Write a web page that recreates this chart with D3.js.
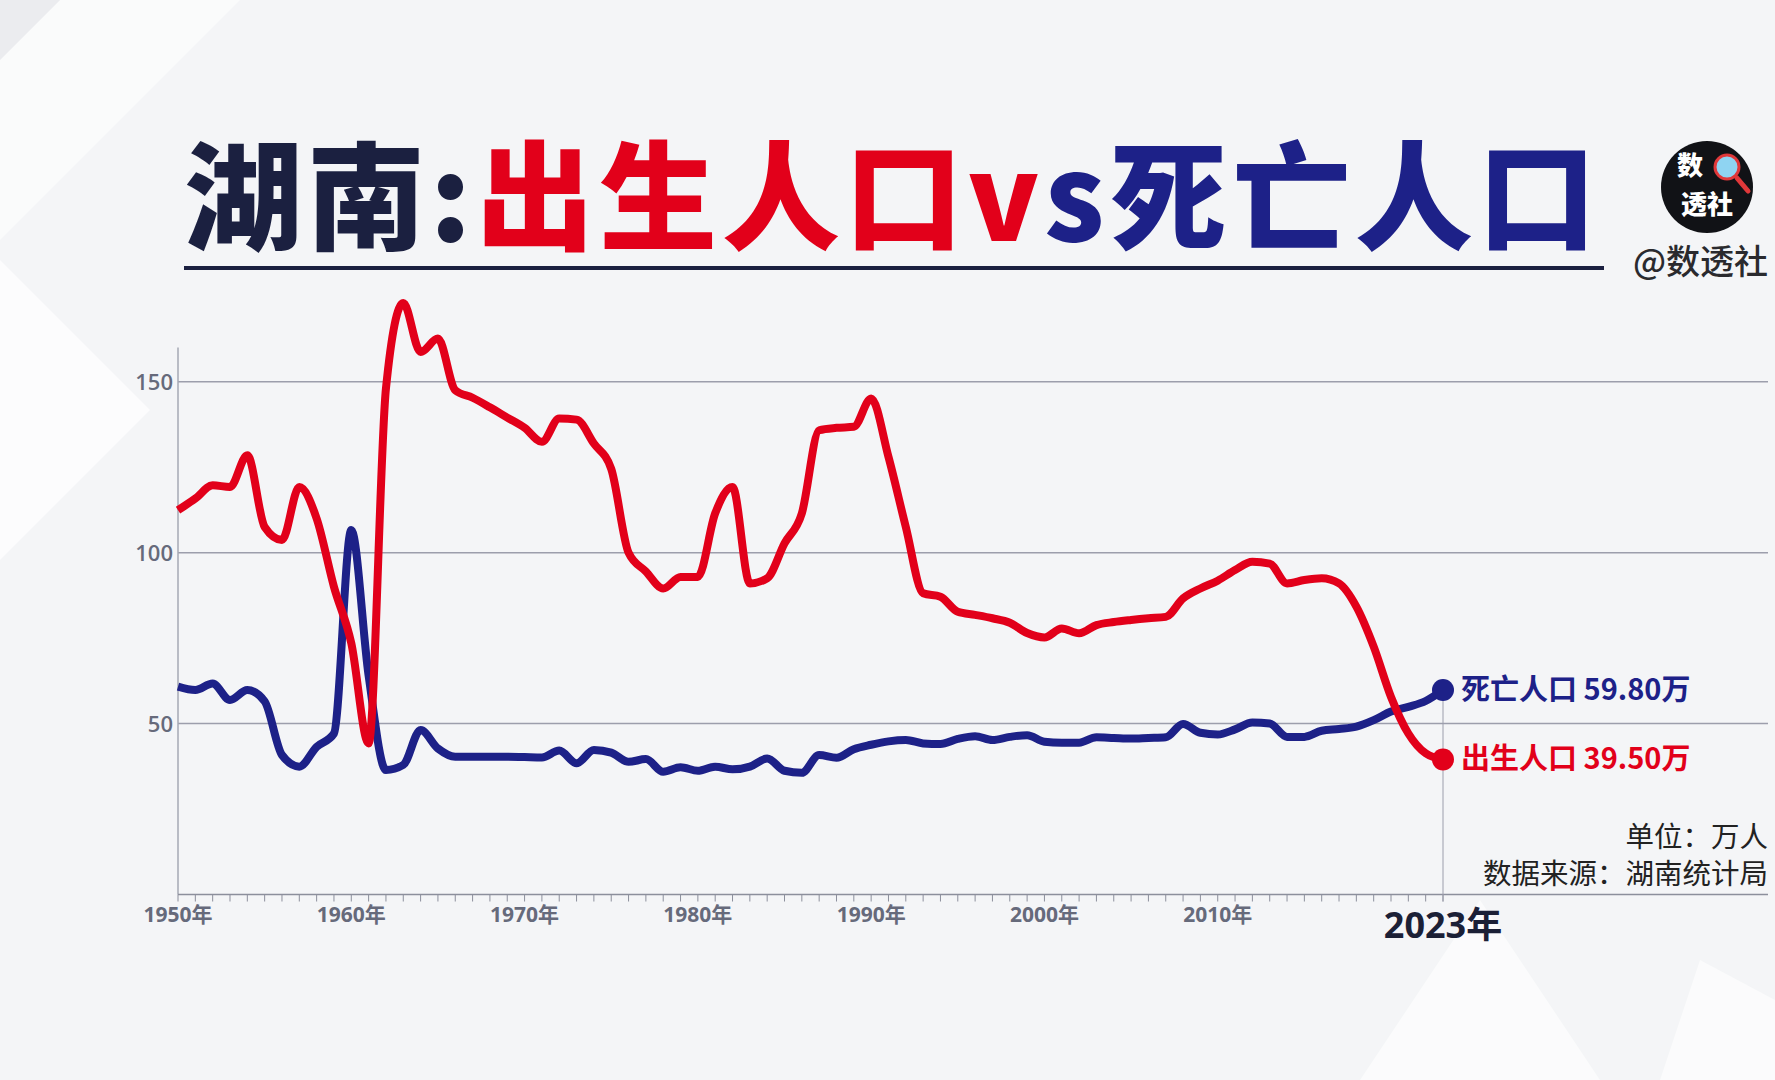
<!DOCTYPE html>
<html>
<head>
<meta charset="utf-8">
<script src="https://cdn.jsdelivr.net/npm/d3@7"></script>
<style>
  html, body { margin: 0; padding: 0; background: #f4f5f7; }
  svg { display: block; }
</style>
</head>
<body>
<div id="chart"></div>
<script>
const years = d3.range(1950, 2024)

// 出生人口 (万人)
const births = [
  112.4, 115.8, 119.7, 119.2, 128.5, 107.5, 103.7, 119.2, 110.0, 90.0,
  73.5, 44.2, 148.0, 173.0, 158.7, 162.6, 147.5, 145.3, 142.5, 139.5,
  136.5, 132.4, 139.2, 138.9, 131.9, 124.5, 100.0, 94.5, 89.5, 92.9,
  92.9, 111.5, 119.2, 91.0, 92.5, 102.7, 111.5, 135.8, 136.5, 136.8,
  145.1, 128.0, 107.5, 88.1, 87.1, 82.7, 81.8, 80.8, 79.5, 76.5,
  75.2, 77.8, 76.4, 78.8, 79.7, 80.3, 80.8, 81.2, 86.6, 89.5,
  91.8, 94.9, 97.3, 96.8, 91.0, 92.0, 92.5, 91.0, 84.2, 72.5,
  57.8, 47.1, 41.3, 39.5
]

// 死亡人口 (万人)
const deaths = [
  60.8, 59.8, 61.7, 56.9, 59.8, 56.5, 40.8, 37.4, 43.2, 47.1,
  106.6, 64.0, 36.4, 37.9, 48.1, 42.7, 40.3, 40.3, 40.3, 40.3,
  40.2, 40.1, 42.1, 38.4, 42.3, 41.5, 38.8, 39.6, 35.9, 37.2,
  36.2, 37.4, 36.6, 37.4, 39.8, 36.2, 35.6, 40.8, 40.0, 42.5,
  43.8, 44.8, 45.2, 44.2, 44.0, 45.5, 46.3, 45.2, 46.1, 46.6,
  44.7, 44.4, 44.4, 46.0, 45.8, 45.6, 45.8, 46.0, 49.9, 47.3,
  46.8, 48.3, 50.3, 50.0, 46.1, 46.1, 47.9, 48.4, 49.1, 51.0,
  53.5, 54.9, 56.6, 59.8
]

const yTicks = [50, 100, 150]
const decadeTicks = [1950, 1960, 1970, 1980, 1990, 2000, 2010]
const lastYear = 2023

const w = 1775
const h = 1080

const RED = '#e2001a'
const BLUE = '#1d2188'
const NAVY = '#1b2040'
const GRAY = '#666a7b'

function drawD3(){
  var svg = d3.select('#chart')
            .append('svg')
            .attr('width', w)
            .attr('height', h)

  // background
  svg.append('rect')
     .attr('width', w)
     .attr('height', h)
     .attr('fill', '#f4f5f7')

  var bg = svg.append('g').attr('fill', '#ffffff')
  bg.append('polygon').attr('points', '60,0 240,0 0,240 0,60').attr('opacity', 0.55)
  bg.append('polygon').attr('points', '0,260 150,410 0,560').attr('opacity', 0.7)
  bg.append('polygon').attr('points', '1480,900 1600,1080 1360,1080').attr('opacity', 0.6)
  bg.append('polygon').attr('points', '1700,960 1775,1000 1775,1080 1660,1080').attr('opacity', 0.6)
  svg.append('polygon').attr('points', '0,0 60,0 0,60').attr('fill', '#ebecef')

  // title, three coloured pieces spread over the underline width
  var parts = [
    {t: '湖南:', c: NAVY},
    {t: '出生人口v', c: RED},
    {t: 's死亡人口', c: BLUE}
  ]
  var titleG = svg.append('g')
  var nodes = parts.map(function(p){
    return titleG.append('text')
       .attr('y', 241)
       .attr('font-family', '"Noto Sans CJK SC", sans-serif')
       .attr('font-weight', 900)
       .attr('font-size', 118)
       .attr('fill', p.c)
       .text(p.t)
  })
  var widths = nodes.map(function(n){return n.node().getComputedTextLength()})
  var chars = d3.sum(parts, function(p){return p.t.length}) - 1
  var gap = Math.max(0, (1412 - d3.sum(widths)) / chars)
  var cx = 184
  nodes.forEach(function(n, i){
    n.attr('x', cx).attr('letter-spacing', gap)
    cx += widths[i] + gap * parts[i].t.length
  })

  svg.append('line')
     .attr('x1', 184).attr('x2', 1604)
     .attr('y1', 268).attr('y2', 268)
     .attr('stroke', NAVY)
     .attr('stroke-width', 4)

  // logo
  var logo = svg.append('g')
  logo.append('circle')
      .attr('cx', 1707).attr('cy', 187).attr('r', 46)
      .attr('fill', '#111216')
  logo.append('line')
      .attr('x1', 1737).attr('y1', 178).attr('x2', 1748).attr('y2', 191)
      .attr('stroke', '#e0383a').attr('stroke-width', 5).attr('stroke-linecap', 'round')
  logo.append('circle')
      .attr('cx', 1727).attr('cy', 167).attr('r', 12)
      .attr('fill', '#8fd4f2')
      .attr('stroke', '#e0383a').attr('stroke-width', 3)
  logo.append('text')
      .attr('x', 1690).attr('y', 175)
      .attr('text-anchor', 'middle')
      .attr('font-family', '"Noto Sans CJK SC", sans-serif')
      .attr('font-weight', 900).attr('font-size', 26)
      .attr('fill', 'white')
      .text('数')
  logo.append('text')
      .attr('x', 1707).attr('y', 214)
      .attr('text-anchor', 'middle')
      .attr('font-family', '"Noto Sans CJK SC", sans-serif')
      .attr('font-weight', 900).attr('font-size', 26)
      .attr('fill', 'white')
      .text('透社')

  svg.append('text')
     .attr('x', 1768).attr('y', 274)
     .attr('text-anchor', 'end')
     .attr('font-family', '"Noto Sans CJK SC", sans-serif')
     .attr('font-weight', 500).attr('font-size', 34)
     .attr('fill', '#2a2a2e')
     .text('@数透社')

  // scales
  var x = d3.scaleLinear()
            .domain([1950, lastYear])
            .range([178, 1443])
  var y = d3.scaleLinear()
            .domain([0, 160])
            .range([894.5, 347.5])

  // grid
  svg.append('g')
     .selectAll('line')
     .data(yTicks)
     .enter()
     .append('line')
     .attr('x1', x(1950)).attr('x2', 1768)
     .attr('y1', function(d){return y(d)})
     .attr('y2', function(d){return y(d)})
     .attr('stroke', '#9c9eac')
     .attr('stroke-width', 1.5)

  svg.append('g')
     .selectAll('text')
     .data(yTicks)
     .enter()
     .append('text')
     .attr('x', 173)
     .attr('y', function(d){return y(d) + 8})
     .attr('text-anchor', 'end')
     .attr('font-family', '"Open Sans", sans-serif')
     .attr('font-weight', 600).attr('font-size', 22)
     .attr('fill', GRAY)
     .text(function(d){return d})

  // y axis line
  svg.append('line')
     .attr('x1', x(1950)).attr('x2', x(1950))
     .attr('y1', y(160)).attr('y2', y(0))
     .attr('stroke', '#a6a8b5').attr('stroke-width', 1.5)

  // x axis
  svg.append('line')
     .attr('x1', x(1950)).attr('x2', 1768)
     .attr('y1', y(0)).attr('y2', y(0))
     .attr('stroke', '#8c8f9c').attr('stroke-width', 1.5)

  svg.append('g')
     .selectAll('line')
     .data(years)
     .enter()
     .append('line')
     .attr('x1', function(d){return x(d)})
     .attr('x2', function(d){return x(d)})
     .attr('y1', y(0)).attr('y2', y(0) + 7)
     .attr('stroke', '#8c8f9c').attr('stroke-width', 1)

  svg.append('g')
     .selectAll('text')
     .data(decadeTicks)
     .enter()
     .append('text')
     .attr('x', function(d){return x(d)})
     .attr('y', 922)
     .attr('text-anchor', 'middle')
     .attr('font-family', '"Open Sans", "Noto Sans CJK SC", sans-serif')
     .attr('font-weight', 700).attr('font-size', 21)
     .attr('fill', GRAY)
     .text(function(d){return d + '年'})

  svg.append('text')
     .attr('x', x(lastYear)).attr('y', 938)
     .attr('text-anchor', 'middle')
     .attr('font-family', '"Open Sans", "Noto Sans CJK SC", sans-serif')
     .attr('font-weight', 700).attr('font-size', 36)
     .attr('fill', '#1b2036')
     .text(lastYear + '年')

  // marker line for last year
  var n = years.length - 1
  svg.append('line')
     .attr('x1', x(lastYear)).attr('x2', x(lastYear))
     .attr('y1', y(deaths[n])).attr('y2', y(0) + 7)
     .attr('stroke', '#9c9eac').attr('stroke-width', 1)

  // lines
  var line = function(values){
    return d3.line()
             .x(function(d, i){return x(years[i])})
             .y(function(d){return y(d)})
             .curve(d3.curveMonotoneX)(values)
  }

  svg.append('path')
     .attr('d', line(deaths))
     .attr('fill', 'none')
     .attr('stroke', BLUE)
     .attr('stroke-width', 8)
     .attr('stroke-linejoin', 'round')

  svg.append('path')
     .attr('d', line(births))
     .attr('fill', 'none')
     .attr('stroke', RED)
     .attr('stroke-width', 8)
     .attr('stroke-linejoin', 'round')

  // end dots + labels
  var ends = [
    {name: '死亡人口', v: deaths[n], color: BLUE},
    {name: '出生人口', v: births[n], color: RED}
  ]
  var g = svg.selectAll('g.end')
             .data(ends)
             .enter()
             .append('g')
             .attr('class', 'end')

  g.append('circle')
   .attr('cx', x(lastYear))
   .attr('cy', function(d){return y(d.v)})
   .attr('r', 11)
   .attr('fill', function(d){return d.color})

  g.append('text')
   .attr('x', x(lastYear) + 18)
   .attr('y', function(d){return y(d.v) + 10})
   .attr('font-family', '"Noto Sans CJK SC", sans-serif')
   .attr('font-weight', 700).attr('font-size', 29)
   .attr('fill', function(d){return d.color})
   .text(function(d){return d.name + ' ' + d.v.toFixed(2) + '万'})

  // notes
  svg.append('text')
     .attr('x', 1768).attr('y', 847)
     .attr('text-anchor', 'end')
     .attr('font-family', '"Noto Sans CJK SC", sans-serif')
     .attr('font-size', 28.5)
     .attr('fill', '#222')
     .text('单位：万人')

  svg.append('text')
     .attr('x', 1768).attr('y', 884)
     .attr('text-anchor', 'end')
     .attr('font-family', '"Noto Sans CJK SC", sans-serif')
     .attr('font-size', 28.5)
     .attr('fill', '#222')
     .text('数据来源：湖南统计局')
}

drawD3()
</script>
</body>
</html>
